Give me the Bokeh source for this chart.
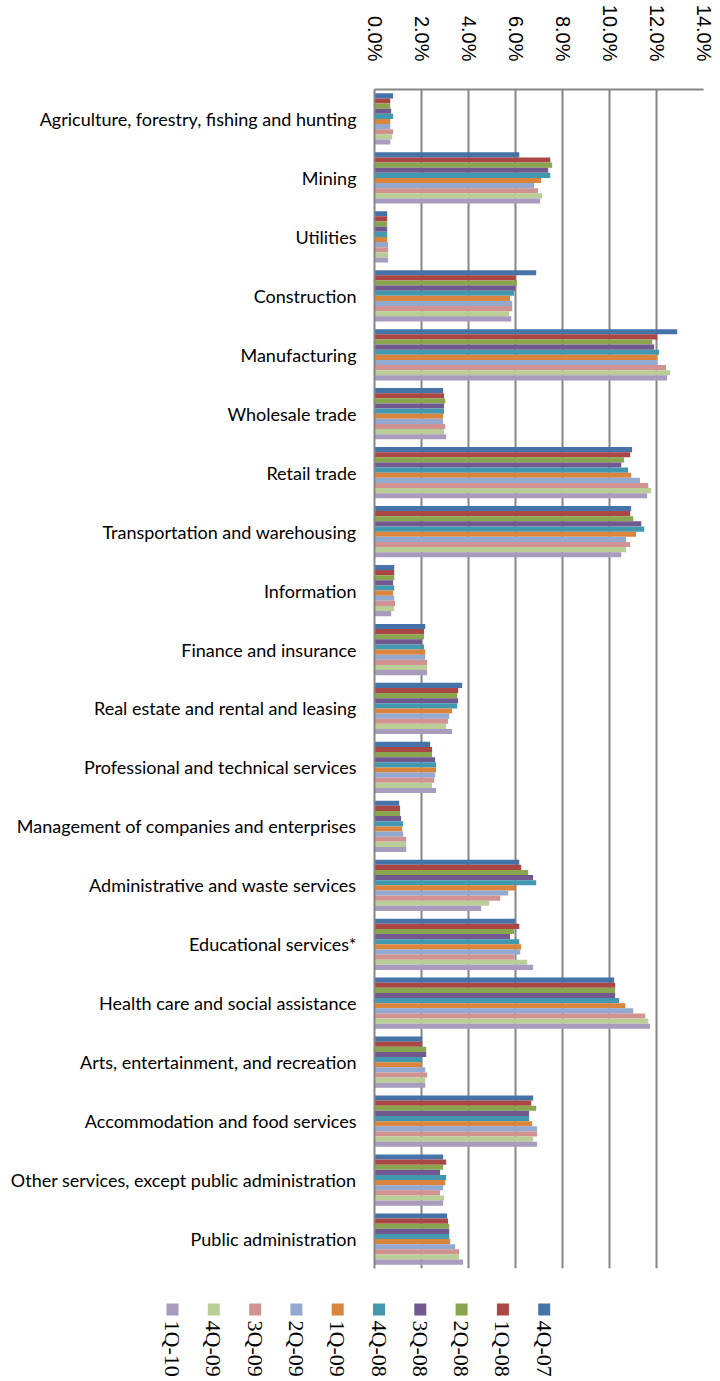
import math
from bokeh.plotting import figure
from bokeh.models import ColumnDataSource, FixedTicker, Range1d
from bokeh.layouts import column
from bokeh.core.properties import value
from bokeh.embed import file_html
from bokeh.resources import INLINE

categories = [
    "Agriculture, forestry, fishing and hunting", "Mining", "Utilities", "Construction",
    "Manufacturing", "Wholesale trade", "Retail trade", "Transportation and warehousing",
    "Information", "Finance and insurance", "Real estate and rental and leasing",
    "Professional and technical services", "Management of companies and enterprises",
    "Administrative and waste services", "Educational services*",
    "Health care and social assistance", "Arts, entertainment, and recreation",
    "Accommodation and food services", "Other services, except public administration",
    "Public administration",
]

series_names = ["4Q-07", "1Q-08", "2Q-08", "3Q-08", "4Q-08", "1Q-09", "2Q-09", "3Q-09", "4Q-09", "1Q-10"]
series_colors = ["#4572A7", "#AA4643", "#89A54E", "#71588F", "#4198AF",
                 "#DB843D", "#93A9CF", "#D19392", "#B9CD96", "#A99BBD"]

q4_07 = [0.79, 6.16, 0.54, 6.88, 12.88, 2.92, 10.96, 10.92, 0.84, 2.16, 3.73, 2.37, 1.05, 6.16, 5.99, 10.20, 2.03, 6.75, 2.92, 3.09]
q1_08 = [0.67, 7.48, 0.54, 5.99, 12.03, 2.96, 10.88, 10.88, 0.84, 2.11, 3.56, 2.45, 1.09, 6.24, 6.16, 10.24, 2.03, 6.67, 3.05, 3.13]
q2_08 = [0.67, 7.56, 0.54, 6.07, 11.82, 3.01, 10.62, 11.01, 0.84, 2.11, 3.52, 2.45, 1.09, 6.54, 5.94, 10.24, 2.20, 6.88, 2.92, 3.18]
q3_08 = [0.71, 7.39, 0.54, 5.99, 11.90, 2.96, 10.50, 11.35, 0.79, 2.03, 3.56, 2.58, 1.13, 6.75, 5.77, 10.24, 2.20, 6.58, 2.79, 3.18]
q4_08 = [0.79, 7.48, 0.54, 5.94, 12.11, 2.96, 10.79, 11.48, 0.84, 2.11, 3.52, 2.62, 1.22, 6.88, 6.16, 10.41, 2.03, 6.58, 3.05, 3.18]
q1_09 = [0.67, 7.09, 0.54, 5.77, 12.03, 2.92, 10.92, 11.13, 0.79, 2.16, 3.30, 2.62, 1.18, 5.99, 6.24, 10.67, 1.99, 6.71, 3.01, 3.22]
q2_09 = [0.67, 6.79, 0.58, 5.86, 12.03, 2.92, 11.30, 10.71, 0.84, 2.16, 3.18, 2.58, 1.22, 5.69, 6.20, 11.01, 2.16, 6.92, 2.92, 3.43]
q3_09 = [0.79, 6.96, 0.58, 5.86, 12.41, 3.01, 11.65, 10.88, 0.88, 2.24, 3.13, 2.54, 1.35, 5.35, 5.94, 11.52, 2.24, 6.92, 2.79, 3.60]
q4_09 = [0.75, 7.13, 0.58, 5.73, 12.58, 2.96, 11.77, 10.71, 0.84, 2.24, 3.05, 2.45, 1.35, 4.88, 6.50, 11.65, 2.16, 6.75, 2.96, 3.60]
q1_10 = [0.67, 7.05, 0.58, 5.82, 12.45, 3.05, 11.60, 10.50, 0.71, 2.24, 3.30, 2.62, 1.35, 4.54, 6.75, 11.73, 2.16, 6.92, 2.92, 3.77]

series_values = [q4_07, q1_08, q2_08, q3_08, q4_08, q1_09, q2_09, q3_09, q4_09, q1_10]

x_ticks = [0, 2, 4, 6, 8, 10, 12, 14]
x_tick_labels = ["0.0%", "2.0%", "4.0%", "6.0%", "8.0%", "10.0%", "12.0%", "14.0%"]

GRID = "#858585"
n_cat = len(categories)
n_ser = len(series_names)
bar_h = 0.087

MAIN_H = 1278
p = figure(width=720, height=MAIN_H, output_backend="svg", toolbar_location=None,
           x_range=Range1d(0, 14), y_range=Range1d(n_cat - 0.5, -0.5),
           x_axis_location="above", min_border_left=374, min_border_right=17,
           min_border_top=89, min_border_bottom=10)
p.frame_align = False
p.outline_line_color = None
p.background_fill_color = "white"
p.border_fill_color = "white"

for j in range(n_ser):
    ys = [i + (j - (n_ser - 1) / 2) * bar_h for i in range(n_cat)]
    src = ColumnDataSource(dict(y=ys, right=series_values[j]))
    p.hbar(y="y", left=0, right="right", height=bar_h, source=src,
           fill_color=series_colors[j], line_color=None)

# x axis (top)
xa = p.xaxis[0]
xa.ticker = FixedTicker(ticks=x_ticks)
xa.major_label_overrides = {t: l for t, l in zip(x_ticks, x_tick_labels)}
xa.major_label_orientation = -math.pi / 2
xa.major_label_text_font = "Liberation Sans"
xa.major_label_text_font_size = "20px"
xa.major_label_text_color = "black"
xa.axis_line_color = GRID
xa.axis_line_width = 2
xa.major_tick_line_color = None
xa.minor_tick_line_color = None
xa.major_label_standoff = 22

# y axis (left)
ya = p.yaxis[0]
ya.ticker = FixedTicker(ticks=list(range(n_cat)))
ya.major_label_overrides = {i: c for i, c in enumerate(categories)}
ya.major_label_text_font = "Lato"
ya.major_label_text_font_size = "18px"
ya.major_label_text_color = "black"
ya.axis_line_color = GRID
ya.axis_line_width = 2
ya.major_tick_line_color = None
ya.minor_tick_line_color = None
ya.major_label_standoff = 12

p.xgrid.ticker = FixedTicker(ticks=x_ticks)
p.xgrid.grid_line_color = GRID
p.xgrid.grid_line_width = 2
p.ygrid.grid_line_color = None

# legend as its own small figure
LH = 1381 - MAIN_H
leg = figure(width=720, height=LH, output_backend="svg", toolbar_location=None,
             x_range=Range1d(0, 720), y_range=Range1d(0, LH),
             min_border=0)
leg.frame_align = False
leg.axis.visible = False
leg.grid.visible = False
leg.outline_line_color = None

leg_order = list(range(n_ser))[::-1]
leg_x = [172 + 41.3 * k for k in range(n_ser)]
leg_src = ColumnDataSource(dict(
    x=leg_x,
    y_sw=[LH - 31] * n_ser,
    y_tx=[LH - 42] * n_ser,
    color=[series_colors[j] for j in leg_order],
    label=[series_names[j] for j in leg_order],
))
leg.rect(x="x", y="y_sw", width=12, height=12, fill_color="color", line_color=None, source=leg_src)
leg.text(x="x", y="y_tx", text="label", angle=-math.pi / 2, text_align="left",
         text_baseline="middle", text_font=value("Liberation Serif"),
         text_font_size="22px", text_color="black", source=leg_src)

layout = column(p, leg, spacing=0)
open("out.html", "w").write(file_html(layout, INLINE))
